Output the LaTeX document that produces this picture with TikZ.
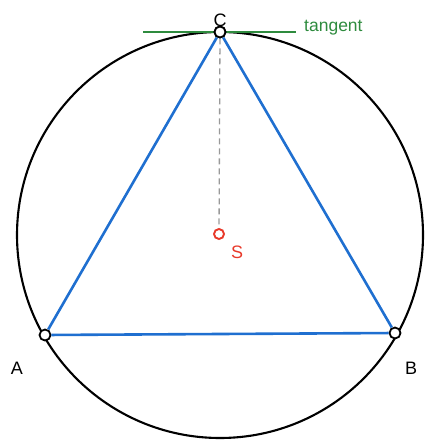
\documentclass[tikz,border=0pt]{standalone}
\usepackage{fontspec}
\setmainfont{Liberation Sans}
\begin{document}
\begin{tikzpicture}[x=1pt,y=-1pt,
  dot/.style={circle,draw=black,fill=white,line width=1.8pt,inner sep=0pt,minimum size=11pt},
  sdot/.style={circle,draw=myred,line width=1.9pt,inner sep=0pt,minimum size=10pt},
  side/.style={draw=myblue,line width=2.6pt},
  lbl/.style={font=\fontsize{18}{18}\selectfont,inner sep=0pt}]
\definecolor{myblue}{HTML}{1F6FD0}
\definecolor{mygreen}{HTML}{2E8B3E}
\definecolor{myred}{HTML}{E8392A}
\useasboundingbox (0,0) rectangle (432,446);
\coordinate (S0) at (220,235);
\draw[line width=2.1pt] (S0) circle[radius=203];
\coordinate (TL) at (143,32);
\coordinate (TR) at (296,32);
\draw[mygreen,line width=2.6pt] (TL) -- (TR);
\node[dot] (A) at (45,335) {};
\node[dot] (B) at (395,333) {};
\node[dot] (C) at (220,32) {};
\node[sdot] (S) at (219,234) {};
\draw[side] (A) -- (B);
\draw[side] (B) -- (C);
\draw[side] (C) -- (A);
\draw[gray!80,line width=1.3pt,dash pattern=on 6pt off 4pt] (C) -- (S);
\node[dot] at (C) {};
\node[lbl] (lC) at (220,20) {C};
\node[lbl] (lA) at (17,368) {A};
\node[lbl] (lB) at (411,368) {B};
\node[lbl,text=myred] (lS) at (237,252) {S};
\node[lbl,text=mygreen,anchor=west,font=\fontsize{17.5}{17.5}\selectfont] (lt) at (304,28) {tangent};
\end{tikzpicture}
\end{document}
